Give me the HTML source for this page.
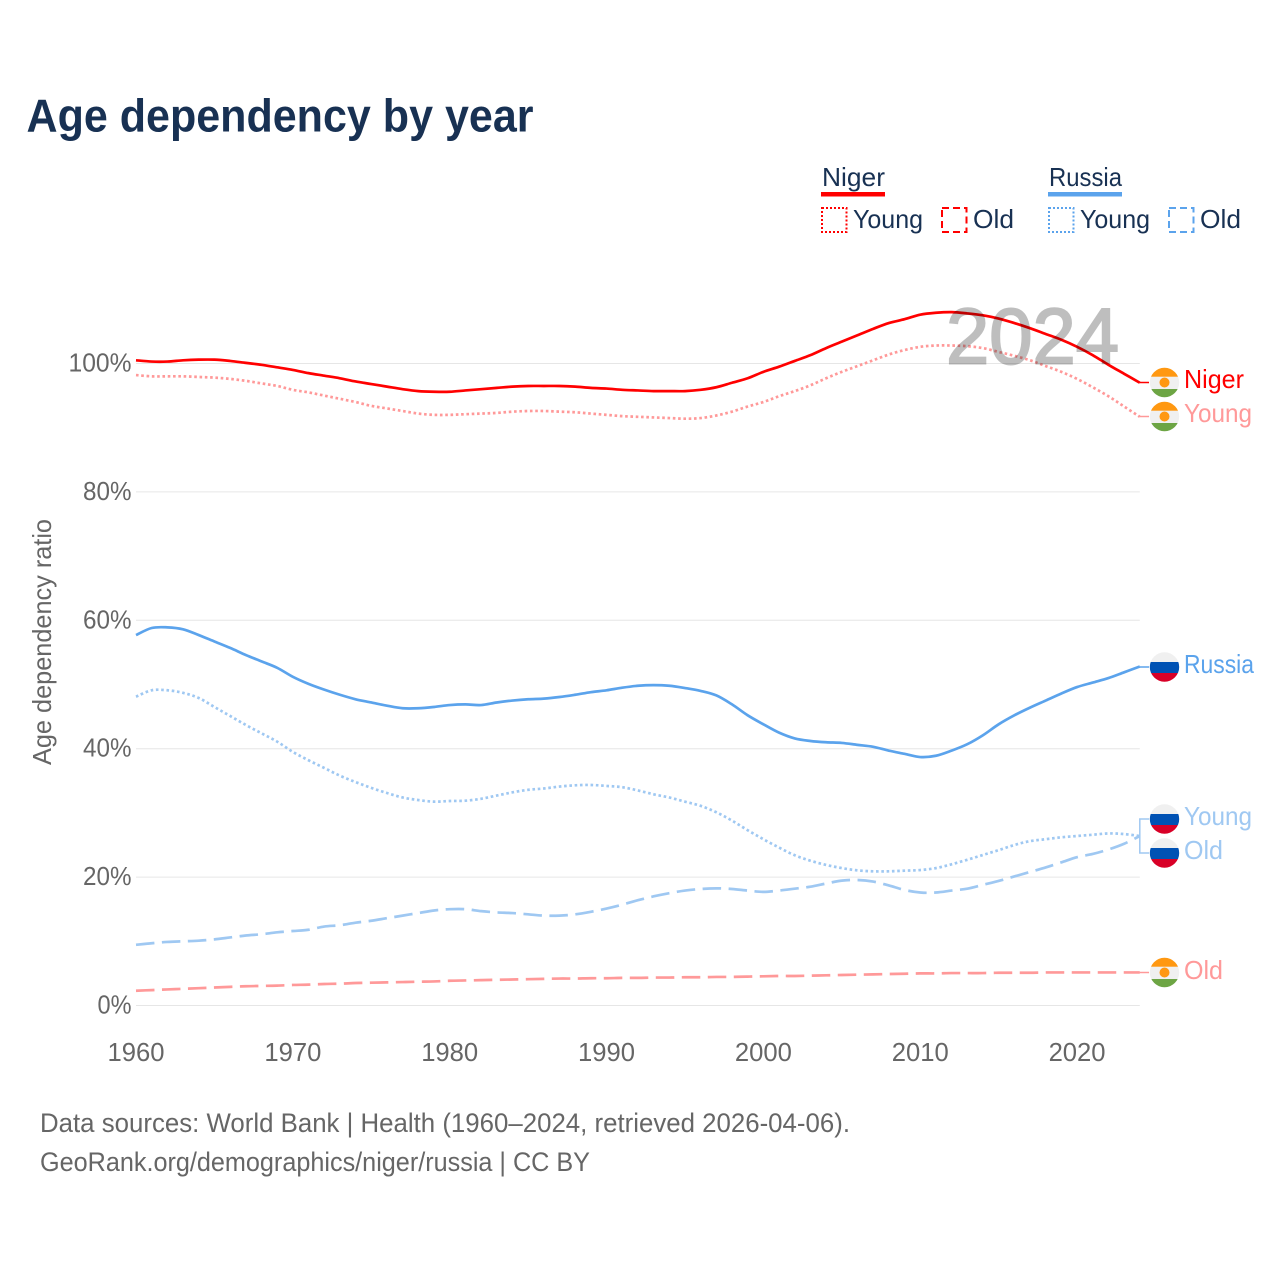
<!DOCTYPE html>
<html lang="en">
<head>
<meta charset="utf-8">
<title>Age dependency by year</title>
<style>
html,body{margin:0;padding:0;background:#fff;width:1280px;height:1280px;overflow:hidden}
svg{display:block}
text{font-family:"Liberation Sans",sans-serif}
</style>
</head>
<body>
<svg id="chart" xmlns="http://www.w3.org/2000/svg" width="1280" height="1280" viewBox="0 0 1280 1280">
  <text x="26.5" y="131.5" font-size="46" font-weight="700" fill="#183153" textLength="507" lengthAdjust="spacingAndGlyphs">Age dependency by year</text>

  <g font-size="26" fill="#183153">
    <text x="822" y="186" textLength="63" lengthAdjust="spacingAndGlyphs">Niger</text>
    <rect x="821" y="192" width="64" height="4.5" fill="#ff0000"/>
    <rect x="822" y="208" width="24.5" height="24" fill="none" stroke="#ff0000" stroke-width="2" stroke-dasharray="2 2"/>
    <text x="853" y="228" textLength="70" lengthAdjust="spacingAndGlyphs">Young</text>
    <rect x="942" y="208" width="24.5" height="24" fill="none" stroke="#ff0000" stroke-width="2" stroke-dasharray="7 4"/>
    <text x="973" y="228" textLength="41" lengthAdjust="spacingAndGlyphs">Old</text>
    <text x="1049" y="186" textLength="73" lengthAdjust="spacingAndGlyphs">Russia</text>
    <rect x="1048" y="192" width="74" height="4.5" fill="#5ba3ec"/>
    <rect x="1049" y="208" width="24.5" height="24" fill="none" stroke="#5ba3ec" stroke-width="2" stroke-dasharray="2 2"/>
    <text x="1080" y="228" textLength="70" lengthAdjust="spacingAndGlyphs">Young</text>
    <rect x="1169" y="208" width="24.5" height="24" fill="none" stroke="#5ba3ec" stroke-width="2" stroke-dasharray="7 4"/>
    <text x="1200" y="228" textLength="41" lengthAdjust="spacingAndGlyphs">Old</text>
  </g>

  <g id="grid"></g>
  <g id="yticks" font-size="26" fill="#666666"></g>
  <g id="xticks" font-size="26" fill="#666666"></g>
  <text transform="translate(51 765) rotate(-90)" font-size="26" fill="#666666" textLength="246" lengthAdjust="spacingAndGlyphs">Age dependency ratio</text>

  <g id="series" fill="none"></g>

  <text x="946" y="363.5" font-size="79" fill="#000000" stroke="#000000" stroke-width="2" opacity="0.25" textLength="173" lengthAdjust="spacingAndGlyphs">2024</text>

  <g id="connectors" fill="none" stroke-width="1.5"></g>

  <defs>
    <clipPath id="clip-niger-total"><circle cx="1164.5" cy="382.5" r="14.7"/></clipPath>
    <clipPath id="clip-niger-young"><circle cx="1164.5" cy="416.5" r="14.7"/></clipPath>
    <clipPath id="clip-niger-old"><circle cx="1164.5" cy="972.5" r="14.7"/></clipPath>
    <clipPath id="clip-russia-total"><circle cx="1164.5" cy="667" r="14.7"/></clipPath>
    <clipPath id="clip-russia-young"><circle cx="1164.5" cy="819" r="14.7"/></clipPath>
    <clipPath id="clip-russia-old"><circle cx="1164.5" cy="853" r="14.7"/></clipPath>
  </defs>

  <g clip-path="url(#clip-niger-total)">
    <rect x="1149" y="367" width="31" height="31" fill="#f0f0f0"/><rect x="1149" y="367" width="31" height="9.7" fill="#ff9811"/><rect x="1149" y="389" width="31" height="10" fill="#6da544"/><circle cx="1164.5" cy="382.5" r="5" fill="#ff9811"/>
  </g>
  <g clip-path="url(#clip-niger-young)">
    <rect x="1149" y="401" width="31" height="31" fill="#f0f0f0"/><rect x="1149" y="401" width="31" height="9.7" fill="#ff9811"/><rect x="1149" y="423" width="31" height="10" fill="#6da544"/><circle cx="1164.5" cy="416.5" r="5" fill="#ff9811"/>
  </g>
  <g clip-path="url(#clip-niger-old)">
    <rect x="1149" y="957" width="31" height="31" fill="#f0f0f0"/><rect x="1149" y="957" width="31" height="9.7" fill="#ff9811"/><rect x="1149" y="979" width="31" height="10" fill="#6da544"/><circle cx="1164.5" cy="972.5" r="5" fill="#ff9811"/>
  </g>
  <g clip-path="url(#clip-russia-total)">
    <rect x="1149" y="652" width="31" height="11" fill="#f0f0f0"/><rect x="1149" y="662" width="31" height="11" fill="#0052b4"/><rect x="1149" y="673" width="31" height="11" fill="#d80027"/>
  </g>
  <g clip-path="url(#clip-russia-young)">
    <rect x="1149" y="804" width="31" height="11" fill="#f0f0f0"/><rect x="1149" y="814" width="31" height="11" fill="#0052b4"/><rect x="1149" y="825" width="31" height="11" fill="#d80027"/>
  </g>
  <g clip-path="url(#clip-russia-old)">
    <rect x="1149" y="838" width="31" height="11" fill="#f0f0f0"/><rect x="1149" y="848" width="31" height="11" fill="#0052b4"/><rect x="1149" y="859" width="31" height="11" fill="#d80027"/>
  </g>

  <g font-size="26">
    <text x="1184" y="388" fill="#ff0000" textLength="60" lengthAdjust="spacingAndGlyphs">Niger</text>
    <text x="1184" y="422" fill="#ff9999" textLength="68" lengthAdjust="spacingAndGlyphs">Young</text>
    <text x="1184" y="673" fill="#5ba3ec" textLength="70" lengthAdjust="spacingAndGlyphs">Russia</text>
    <text x="1184" y="825" fill="#9fc8f2" textLength="68" lengthAdjust="spacingAndGlyphs">Young</text>
    <text x="1184" y="859" fill="#9fc8f2" textLength="39" lengthAdjust="spacingAndGlyphs">Old</text>
    <text x="1184" y="979" fill="#ff9999" textLength="39" lengthAdjust="spacingAndGlyphs">Old</text>
  </g>

  <g font-size="26.5" fill="#666666">
    <text x="40" y="1132" textLength="810" lengthAdjust="spacingAndGlyphs">Data sources: World Bank | Health (1960–2024, retrieved 2026-04-06).</text>
    <text x="40" y="1171" textLength="550" lengthAdjust="spacingAndGlyphs">GeoRank.org/demographics/niger/russia | CC BY</text>
  </g>
</svg>

<script>
const startYear = 1960;
const endYear = 2024;
const yTickValues = [0, 20, 40, 60, 80, 100];
const xTickLabels = [1960, 1970, 1980, 1990, 2000, 2010, 2020];

const nigerTotal = [100.5,100.3,100.3,100.5,100.6,100.6,100.4,100.1,99.8,99.4,99.0,98.5,98.1,97.7,97.2,96.8,96.4,96.0,95.7,95.6,95.6,95.8,96.0,96.2,96.4,96.5,96.5,96.5,96.4,96.2,96.1,95.9,95.8,95.7,95.7,95.7,95.9,96.3,97.0,97.7,98.7,99.5,100.4,101.3,102.4,103.4,104.4,105.4,106.3,106.9,107.6,107.9,108.0,107.8,107.5,107.0,106.3,105.5,104.6,103.7,102.6,101.3,99.8,98.4,97.0];
const nigerYoung = [98.2,98.0,98.0,98.0,97.9,97.8,97.6,97.3,96.9,96.5,95.9,95.5,95.0,94.5,94.0,93.4,93.0,92.6,92.2,92.0,92.0,92.1,92.2,92.3,92.5,92.6,92.6,92.5,92.4,92.2,92.0,91.8,91.7,91.6,91.5,91.4,91.5,91.9,92.5,93.3,94.0,94.9,95.7,96.6,97.7,98.7,99.6,100.5,101.4,102.1,102.6,102.8,102.8,102.7,102.4,101.8,101.2,100.5,99.6,98.7,97.6,96.3,94.9,93.3,91.7];
const nigerOld = [2.3,2.4,2.5,2.6,2.7,2.8,2.9,3.0,3.05,3.1,3.2,3.25,3.35,3.4,3.5,3.55,3.6,3.65,3.7,3.75,3.85,3.9,3.95,4.0,4.05,4.1,4.15,4.2,4.2,4.25,4.25,4.3,4.3,4.35,4.35,4.4,4.4,4.45,4.45,4.5,4.55,4.6,4.6,4.65,4.7,4.75,4.8,4.85,4.9,4.95,5.0,5.0,5.05,5.05,5.05,5.1,5.1,5.1,5.15,5.15,5.15,5.15,5.15,5.15,5.15];
const russiaTotal = [57.7,58.8,58.9,58.6,57.7,56.7,55.7,54.6,53.6,52.6,51.2,50.1,49.2,48.4,47.7,47.2,46.7,46.3,46.3,46.5,46.8,46.9,46.8,47.2,47.5,47.7,47.8,48.05,48.4,48.8,49.1,49.5,49.8,49.9,49.8,49.45,49.0,48.3,46.9,45.2,43.8,42.5,41.6,41.2,41.0,40.9,40.6,40.3,39.7,39.2,38.7,38.9,39.7,40.7,42.1,43.8,45.2,46.4,47.5,48.6,49.6,50.3,51.0,51.9,52.8];
const russiaYoung = [48.1,49.1,49.1,48.7,47.9,46.5,45.1,43.7,42.4,41.1,39.5,38.2,37.0,35.8,34.8,33.9,33.1,32.4,32.0,31.75,31.85,31.9,32.2,32.7,33.2,33.6,33.8,34.1,34.3,34.35,34.2,34.0,33.5,32.9,32.4,31.75,31.1,30.1,28.8,27.3,25.9,24.6,23.4,22.55,21.9,21.4,21.05,20.9,20.9,21.0,21.1,21.4,22.0,22.7,23.45,24.2,25.0,25.6,25.9,26.2,26.4,26.6,26.8,26.7,26.4];
const russiaOld = [9.45,9.7,9.9,10.0,10.1,10.3,10.6,10.9,11.1,11.4,11.6,11.8,12.3,12.5,12.9,13.2,13.6,14.0,14.4,14.8,15.0,15.0,14.7,14.5,14.4,14.2,14.0,14.0,14.2,14.6,15.1,15.7,16.4,17.0,17.5,17.9,18.15,18.25,18.15,17.9,17.7,17.9,18.2,18.5,19.0,19.45,19.55,19.3,18.7,18.0,17.6,17.6,17.9,18.2,18.8,19.4,20.1,20.8,21.5,22.3,23.1,23.6,24.3,25.2,26.4];

const SVG_NS = "http://www.w3.org/2000/svg";
const plotLeft = 136, plotRight = 1139.8, zeroY = 1005.5, hundredY = 363.5;
function xScale(year) { return plotLeft + (year - startYear) * (plotRight - plotLeft) / (endYear - startYear); }
function yScale(value) { return zeroY + value * (hundredY - zeroY) / 100; }
function lineFrom(values) {
  const pts = values.map(function (v, i) { return [xScale(startYear + i), yScale(v)]; });
  let d = "M" + pts[0][0].toFixed(2) + " " + pts[0][1].toFixed(2);
  for (let i = 0; i < pts.length - 1; i++) {
    const p0 = pts[Math.max(i - 1, 0)], p1 = pts[i], p2 = pts[i + 1], p3 = pts[Math.min(i + 2, pts.length - 1)];
    const c1x = p1[0] + (p2[0] - p0[0]) / 6, c1y = p1[1] + (p2[1] - p0[1]) / 6;
    const c2x = p2[0] - (p3[0] - p1[0]) / 6, c2y = p2[1] - (p3[1] - p1[1]) / 6;
    d += " C" + c1x.toFixed(2) + " " + c1y.toFixed(2) + " " + c2x.toFixed(2) + " " + c2y.toFixed(2) + " " + p2[0].toFixed(2) + " " + p2[1].toFixed(2);
  }
  return d;
}

const grid = document.getElementById("grid");
const yticks = document.getElementById("yticks");
yTickValues.forEach(function (v) {
  const gl = document.createElementNS(SVG_NS, "line");
  
  
  gl.setAttribute("x1", plotLeft);
  gl.setAttribute("x2", plotRight);
  gl.setAttribute("y1", yScale(v));
  gl.setAttribute("y2", yScale(v));
  gl.setAttribute("stroke", "#e6e6e6");
  gl.setAttribute("stroke-width", "1");
  grid.appendChild(gl);
  const t = document.createElementNS(SVG_NS, "text");
  
  
  const digits = String(v).length;
  const w = digits * 14.5 + 19.5;
  t.setAttribute("x", 131.5 - w);
  t.setAttribute("y", yScale(v) + 8);
  t.setAttribute("textLength", w);
  t.setAttribute("lengthAdjust", "spacingAndGlyphs");
  t.textContent = v + "%";
  yticks.appendChild(t);
});

const xticks = document.getElementById("xticks");
xTickLabels.forEach(function (year) {
  const t = document.createElementNS(SVG_NS, "text");
  
  
  t.setAttribute("x", xScale(year) - 28.5);
  t.setAttribute("y", 1061);
  t.setAttribute("textLength", 57);
  t.setAttribute("lengthAdjust", "spacingAndGlyphs");
  t.textContent = year;
  xticks.appendChild(t);
});

const seriesGroup = document.getElementById("series");
function addSeries(name, values, color, dash) {
  const p = document.createElementNS(SVG_NS, "path");
  
  
  p.setAttribute("d", lineFrom(values));
  p.setAttribute("stroke", color);
  p.setAttribute("stroke-width", "2.7");
  p.setAttribute("stroke-linejoin", "round");
  if (dash) p.setAttribute("stroke-dasharray", dash);
  seriesGroup.appendChild(p);
}
addSeries("line-niger-old", nigerOld, "#ff9999", "18.5 7.5");
addSeries("line-russia-old", russiaOld, "#9fc8f2", "18.5 7.5");
addSeries("line-russia-young", russiaYoung, "#9fc8f2", "2.6 2.7");
addSeries("line-niger-young", nigerYoung, "#ff9999", "2.6 2.7");
addSeries("line-russia-total", russiaTotal, "#5ba3ec", "");
addSeries("line-niger-total", nigerTotal, "#ff0000", "");

const connectors = document.getElementById("connectors");
function addConnector(name, lastValue, labelY, color) {
  const c = document.createElementNS(SVG_NS, "path");
  
  
  c.setAttribute("d", "M" + plotRight + " " + yScale(lastValue) + " V" + labelY + " H1149");
  c.setAttribute("stroke", color);
  connectors.appendChild(c);
}
addConnector("connector-niger", nigerTotal[nigerTotal.length - 1], 382.5, "#ff0000");
addConnector("connector-niger-young", nigerYoung[nigerYoung.length - 1], 416.5, "#ff9999");
addConnector("connector-niger-old", nigerOld[nigerOld.length - 1], 972.5, "#ff9999");
addConnector("connector-russia", russiaTotal[russiaTotal.length - 1], 667, "#5ba3ec");
addConnector("connector-russia-young", russiaYoung[russiaYoung.length - 1], 819, "#9fc8f2");
addConnector("connector-russia-old", russiaOld[russiaOld.length - 1], 853, "#9fc8f2");
</script>
</body>
</html>
